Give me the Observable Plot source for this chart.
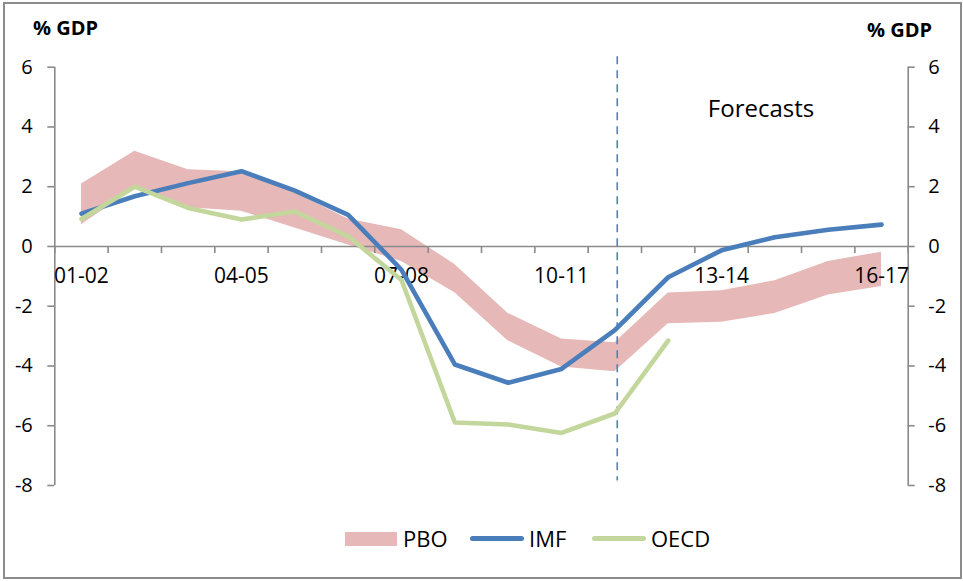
<!DOCTYPE html>
<html><head><meta charset="utf-8">
<script src="https://cdn.jsdelivr.net/npm/d3@7"></script>
<script src="https://cdn.jsdelivr.net/npm/@observablehq/plot@0.6"></script>
<style>
html,body{margin:0;padding:0;background:#fff;}
#wrap{position:relative;width:963px;height:581px;font-family:"Open Sans",sans-serif;color:#000;overflow:hidden;}
#wrap svg{position:absolute;left:0;top:0;}
.lbl{position:absolute;line-height:1;white-space:nowrap;}
#border{position:absolute;left:3px;top:2px;width:959px;height:577px;box-sizing:border-box;border:2px solid #8c8c8c;}
.sw{position:absolute;}
</style></head><body>
<div id="wrap">
  <div id="border"></div>
</div>
<script>
const years = ["01-02","02-03","03-04","04-05","05-06","06-07","07-08","08-09","09-10","10-11","11-12","12-13","13-14","14-15","15-16","16-17"];
const pboHigh = [2.09, 3.19, 2.57, 2.5, 1.8, 0.92, 0.56, -0.6, -2.24, -3.1, -3.22, -1.56, -1.48, -1.15, -0.5, -0.19];
const pboLow  = [0.73, 1.95, 1.3, 1.18, 0.62, 0.05, -0.5, -1.55, -3.16, -4.03, -4.19, -2.59, -2.54, -2.24, -1.62, -1.34];
const imf     = [1.1, 1.68, 2.12, 2.52, 1.87, 1.06, -0.78, -3.95, -4.56, -4.1, -2.8, -1.03, -0.13, 0.31, 0.56, 0.73];
const oecd    = [0.92, 2.0, 1.29, 0.9, 1.17, 0.34, -1.12, -5.89, -5.96, -6.24, -5.59, -3.15];
const yTicks = [-8, -6, -4, -2, 0, 2, 4, 6];
const xLabelYears = ["01-02","04-05","07-08","10-11","13-14","16-17"];
const forecastStart = "11-12";
const forecastSpan = [6.35, -7.85];

const rows = years.map((yr, i) => ({i, yr, hi: pboHigh[i], lo: pboLow[i], imf: imf[i], oecd: i < oecd.length ? oecd[i] : NaN}));
const xMin = -0.5, xMax = years.length - 0.5;
const bounds = d3.range(years.length + 1).map(k => k - 0.5);
const idx = yr => years.indexOf(yr);
const axisGray = "#8a8a8a";

const chart = Plot.plot({
  width: 963, height: 581,
  marginLeft: 54.3, marginRight: 55.3, marginTop: 66.7, marginBottom: 96,
  style: {fontFamily: "'Open Sans', sans-serif", background: "transparent", overflow: "visible"},
  x: {domain: [xMin, xMax], axis: null},
  y: {domain: [d3.min(yTicks), d3.max(yTicks)], axis: null},
  marks: [
    Plot.areaY(rows, {x: "i", y1: "lo", y2: "hi", fill: "#e6b9b8"}),
    Plot.ruleX([xMin, xMax], {y1: d3.min(yTicks), y2: d3.max(yTicks), stroke: axisGray, strokeWidth: 1.6}),
    Plot.ruleY([0], {stroke: axisGray, strokeWidth: 1.6}),
    Plot.ruleX(bounds, {x: d => d, y1: () => 0, y2: () => 0, insetBottom: -7, stroke: axisGray, strokeWidth: 1.6}),
    Plot.ruleY(yTicks, {y: d => d, x1: () => xMin, x2: () => xMin, insetLeft: -7, stroke: axisGray, strokeWidth: 1.6}),
    Plot.ruleY(yTicks, {y: d => d, x1: () => xMax, x2: () => xMax, insetRight: -7, stroke: axisGray, strokeWidth: 1.6}),
    Plot.text(yTicks, {x: () => xMin, y: d => d, text: d => String(d), textAnchor: "end", dx: -22, fontSize: 20, fill: "#000"}),
    Plot.text(yTicks, {x: () => xMax, y: d => d, text: d => String(d), textAnchor: "start", dx: 20, fontSize: 20, fill: "#000"}),
    Plot.text(xLabelYears, {x: d => idx(d), y: () => 0, text: d => d, dy: 29.5, fontSize: 21, fill: "#000"}),
    Plot.ruleX([forecastStart], {x: d => idx(d), y1: () => forecastSpan[0], y2: () => forecastSpan[1], dx: 2.4, stroke: "#4f81bd", strokeWidth: 1.6, strokeDasharray: "8,6"}),
    Plot.line(rows, {x: "i", y: "imf", stroke: "#4a7ebb", strokeWidth: 4.6, strokeLinejoin: "round", strokeLinecap: "round"}),
    Plot.line(rows, {x: "i", y: "oecd", stroke: "#c3d69b", strokeWidth: 4.6, strokeLinejoin: "round", strokeLinecap: "round"})
  ]
});
const wrap = document.getElementById("wrap");
wrap.insertBefore(chart, wrap.firstChild);

function addLabel(text, left, top, size, weight, extra) {
  const d = document.createElement("div");
  d.className = "lbl";
  d.textContent = text;
  d.style.left = left + "px";
  d.style.top = top + "px";
  d.style.fontSize = size + "px";
  d.style.fontWeight = weight || "normal";
  if (extra) Object.assign(d.style, extra);
  wrap.appendChild(d);
  return d;
}
function addSwatch(left, top, w, h, color, radius) {
  const d = document.createElement("div");
  d.className = "sw";
  Object.assign(d.style, {left: left + "px", top: top + "px", width: w + "px", height: h + "px", background: color, borderRadius: (radius || 0) + "px"});
  wrap.appendChild(d);
}
addLabel("% GDP", 33, 17.5, 20, "bold");
addLabel("% GDP", 867, 20, 20, "bold");
addLabel("Forecasts", 661, 95.5, 24, "normal", {width: "200px", textAlign: "center"});

// legend
addSwatch(345, 532, 52, 14, "#e6b9b8");
addLabel("PBO", 403, 526.5, 22);
addSwatch(470, 535.8, 54, 5, "#4a7ebb", 2.5);
addLabel("IMF", 529, 526.5, 22);
addSwatch(592, 535.8, 54, 5, "#c3d69b", 2.5);
addLabel("OECD", 651, 526.5, 22);
</script>
</body></html>
